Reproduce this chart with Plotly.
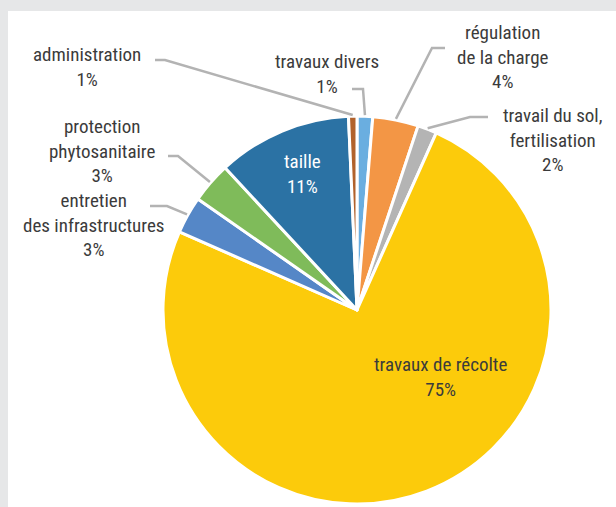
import numpy as np
import plotly.graph_objects as go

# ---------------- data ----------------
categories = ["travaux divers", "régulation de la charge", "travail du sol, fertilisation",
              "travaux de récolte", "entretien des infrastructures", "protection phytosanitaire",
              "taille", "administration"]
label_text = ["travaux divers", "régulation<br>de la charge", "travail du sol,<br>fertilisation",
              "travaux de récolte", "entretien<br>des infrastructures", "protection<br>phytosanitaire",
              "taille", "administration"]
values = [1.3, 3.8, 1.6, 74.9, 3.1, 3.4, 11.2, 0.7]

# ---------------- style ----------------
colors = ["#6aaee0", "#f39645", "#b4b4b4", "#fccb0b", "#5587c7", "#7fbb5a", "#2b72a4", "#b1622c"]
W, H = 616, 507
CX, CY, R = 357, 310, 194          # pie centre / radius in px
FONT = "Liberation Sans Narrow, Roboto Condensed, Roboto, sans-serif"
TXT = "#3b3b3b"
LINE = "#b3b3b3"
# label placement (px): text centre, elbow point, line end x ; no elbow = inside label
label_pos = [
    dict(tx=327, ty=74, ex=363, ey=89, endx=352),
    dict(tx=503, ty=57, ex=432, ey=48, endx=445),
    dict(tx=552, ty=140, ex=470, ey=117, endx=488),
    dict(tx=440, ty=377, color=TXT),
    dict(tx=93, ty=225, ex=167, ey=206, endx=150),
    dict(tx=102, ty=151, ex=178, ey=156, endx=168),
    dict(tx=302, ty=174, color="white"),
    dict(tx=87, ty=67, ex=165, ey=60, endx=155),
]


def px(x):
    return x / W


def py(y):
    return 1 - y / H


fig = go.Figure()
fig.add_trace(go.Pie(
    labels=categories, values=values, sort=False, direction="clockwise", rotation=0,
    marker=dict(colors=colors, line=dict(color="white", width=3)),
    textinfo="none", hoverinfo="label+percent", showlegend=False,
    domain=dict(x=[px(CX - R), px(CX + R)], y=[py(CY + R), py(CY - R)]),
))

total = float(np.sum(values))
cum = np.cumsum([0] + values[:-1])
shapes = [
    dict(type="rect", xref="paper", yref="paper", x0=0, x1=1, y0=py(11), y1=1,
         fillcolor="#e6e7e8", line_width=0, layer="below"),
    dict(type="rect", xref="paper", yref="paper", x0=0, x1=px(8), y0=0, y1=1,
         fillcolor="#e6e7e8", line_width=0, layer="below"),
]
annotations = []
for i, v in enumerate(values):
    pct = round(v / total * 100)
    pos = label_pos[i]
    ang = np.deg2rad((cum[i] + v / 2) / total * 360)
    sx = CX + (R + 1) * np.sin(ang)
    sy = CY - (R + 1) * np.cos(ang)
    if "ex" in pos:
        shapes.append(dict(
            type="path", xref="paper", yref="paper",
            path=f"M {px(sx)} {py(sy)} L {px(pos['ex'])} {py(pos['ey'])} L {px(pos['endx'])} {py(pos['ey'])}",
            line=dict(color=LINE, width=2.5)))
    annotations.append(dict(
        xref="paper", yref="paper", x=px(pos["tx"]), y=py(pos["ty"]),
        xanchor="center", yanchor="middle", align="center", showarrow=False,
        text=f"{label_text[i]}<br>{pct}%",
        font=dict(family=FONT, size=19, color=pos.get("color", TXT))))

fig.update_layout(
    width=W, height=H, margin=dict(l=0, r=0, t=0, b=0),
    paper_bgcolor="white", plot_bgcolor="white",
    shapes=shapes, annotations=annotations,
)
fig.write_html("out.html")
